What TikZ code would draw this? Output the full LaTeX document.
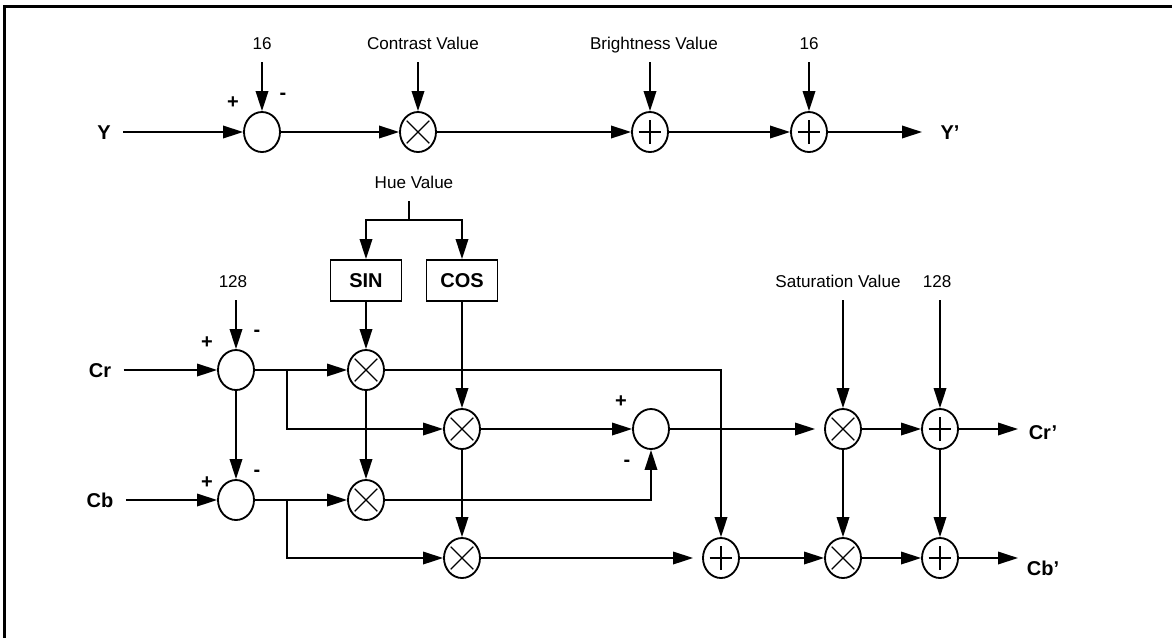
\documentclass[tikz,border=0pt]{standalone}
\usepackage{fontspec}
\setmainfont{Liberation Sans}
\usepackage{tikz}
\usetikzlibrary{arrows.meta}
\usetikzlibrary{shapes.geometric}
\tikzstyle{flow}=[line width=1.1pt, >={Triangle[length=12pt,width=7.5pt]}, x=0.6pt, y=-0.6pt, font=\fontsize{10.25}{12}\selectfont]
\tikzstyle{sig}=[inner sep=2pt, text height=8.6pt, text depth=0pt, font=\fontsize{12}{14}\selectfont\bfseries]
\tikzstyle{val}=[inner sep=2pt, text height=7.4pt, text depth=2pt]
\tikzstyle{sgn}=[inner sep=0pt, font=\fontsize{12}{14}\selectfont\bfseries]
\tikzstyle{sub}=[ellipse, draw, fill=white, inner sep=0pt, minimum width=21.6pt, minimum height=24pt]
\tikzstyle{mul}=[sub, path picture={\draw[line width=0.7pt]
  ([shift={(-6.8pt,-6.8pt)}]path picture bounding box.center) -- ([shift={(6.8pt,6.8pt)}]path picture bounding box.center)
  ([shift={(-6.8pt,6.8pt)}]path picture bounding box.center) -- ([shift={(6.8pt,-6.8pt)}]path picture bounding box.center);}]
\tikzstyle{add}=[sub, path picture={\draw[line width=0.7pt]
  ([xshift=-6.8pt]path picture bounding box.center) -- ([xshift=6.8pt]path picture bounding box.center)
  ([yshift=-7.2pt]path picture bounding box.center) -- ([yshift=7.2pt]path picture bounding box.center);}]
\tikzstyle{fn}=[rectangle, draw, inner sep=0pt, minimum width=42.6pt, minimum height=24.6pt, font=\fontsize{12}{14}\selectfont\bfseries]
\tikzstyle{feed}=[->, shorten <=3pt]
\tikzstyle{gap}=[->, shorten >=5.4pt]
\newcommand{\valY}{45}
\newcommand{\outX}{1018}

\begin{document}
\begin{tikzpicture}[flow]
		\useasboundingbox (0,0) rectangle (1172,637);
		%The frame
		\draw[line width=1.8pt] (4.5,640) -- (4.5,6.5) -- (1175,6.5);
		
		%The Y row
		\draw (104,132) node[sig] (ylab) {Y};
		\draw (262,132) node[sub] (s1) {};
		\draw (418,132) node[mul] (m1) {};
		\draw (650,132) node[add] (a1) {};
		\draw (809,132) node[add] (a2) {};
		\coordinate (yend) at (922,132);
		\draw (950,132) node[sig] (yout) {Y’};
		\draw (262,\valY) node[val] (k16a) {16};
		\draw (423,\valY) node[val] (con) {Contrast Value};
		\draw (654,\valY) node[val] (bri) {Brightness Value};
		\draw (809,\valY) node[val] (k16b) {16};
		\node[sgn] (p1) at (233,103) {+};
		\node[sgn] (n1) at (283,96) {-};
		\draw[->, shorten <=5pt] (ylab) -- (s1);
		\draw[feed] (k16a) -- (s1);
		\draw[feed] (con.south -| m1) -- (m1);
		\draw[feed] (bri.south -| a1) -- (a1);
		\draw[feed] (k16b) -- (a2);
		\draw[->] (s1) -- (m1);
		\draw[->] (m1) -- (a1);
		\draw[->] (a1) -- (a2);
		\draw[->] (a2) -- (yend);
		
		%The hue split
		\draw (414,184) node[val] (hue) {Hue Value};
		\coordinate (hj) at (409,220);
		\draw (366,280.5) node[fn] (sin) {SIN};
		\draw (462,280.5) node[fn] (cos) {COS};
		\draw[shorten <=3pt] (hue.south -| hj) -- (hj);
		\draw[->] (hj) -| (sin);
		\draw[->] (hj) -| (cos);
		
		%The Cr and Cb inputs
		\draw (100,370) node[sig] (crlab) {Cr};
		\draw (100,500) node[sig] (cblab) {Cb};
		\draw (233,283) node[val] (k128a) {128};
		\draw (236,370) node[sub] (s2) {};
		\draw (236,500) node[sub] (s3) {};
		\node[sgn] (p2) at (207,343) {+};
		\node[sgn] (n2) at (257,333) {-};
		\node[sgn] (p3) at (207,483) {+};
		\node[sgn] (n3) at (257,473) {-};
		\draw[feed] (k128a.south -| s2) -- (s2);
		\draw[->, shorten <=5pt] (crlab) -- (s2);
		\draw[->, shorten <=5pt] (cblab) -- (s3);
		\draw[->] (s2) -- (s3);
		
		%The rotation
		\coordinate (b1) at (287,370);
		\coordinate (b2) at (287,500);
		\draw (366,370) node[mul] (m2) {};
		\draw (462,429) node[mul] (m3) {};
		\draw (366,500) node[mul] (m4) {};
		\draw (462,558) node[mul] (m5) {};
		\draw (651,429) node[sub] (s4) {};
		\draw (721,558) node[add] (a3) {};
		\node[sgn] (p4) at (621,402) {+};
		\node[sgn] (n4) at (627,463) {-};
		\draw[->] (s2) -- (m2);
		\draw[->] (b1) |- (m3);
		\draw[->] (s3) -- (m4);
		\draw[->] (b2) |- (m5);
		\draw[->] (sin) -- (m2);
		\draw[->] (cos) -- (m3);
		\draw[->] (m2) -- (m4);
		\draw[->] (m3) -- (m5);
		\draw[->] (m2) -| (a3);
		\draw[->] (m3) -- (s4);
		\draw[->] (m4) -| (s4);
		\draw[gap] (m5) -- (a3);
		
		%The saturation and offset
		\draw (838,283) node[val] (sat) {Saturation Value};
		\draw (937,283) node[val] (k128b) {128};
		\draw (843,429) node[mul] (m6) {};
		\draw (940,429) node[add] (a4) {};
		\draw (843,558) node[mul] (m7) {};
		\draw (940,558) node[add] (a5) {};
		\coordinate (crend) at (\outX,429);
		\coordinate (cbend) at (\outX,558);
		\draw (1043,432) node[sig] (crout) {Cr’};
		\draw (1043,568) node[sig] (cbout) {Cb’};
		\draw[feed] (sat.south -| m6) -- (m6);
		\draw[feed] (k128b.south -| a4) -- (a4);
		\draw[gap] (s4) -- (m6);
		\draw[->] (a3) -- (m7);
		\draw[->] (m6) -- (a4);
		\draw[->] (m7) -- (a5);
		\draw[->] (m6) -- (m7);
		\draw[->] (a4) -- (a5);
		\draw[->] (a4) -- (crend);
		\draw[->] (a5) -- (cbend);
		\end{tikzpicture}
\end{document}
